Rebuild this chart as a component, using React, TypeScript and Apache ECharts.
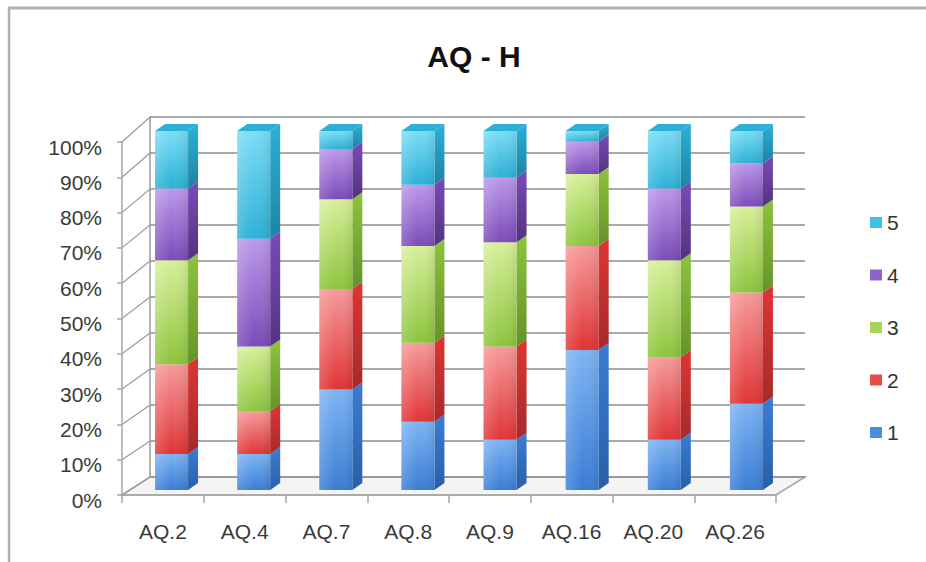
import React, { useEffect, useRef } from "react";
import * as echarts from "echarts";

const categories = ["AQ.2", "AQ.4", "AQ.7", "AQ.8", "AQ.9", "AQ.16", "AQ.20", "AQ.26"];
const seriesNames = ["1", "2", "3", "4", "5"];
const values1 = [10, 10, 28, 19, 14, 39, 14, 24];
const values2 = [25, 12, 28, 22, 26, 29, 23, 31];
const values3 = [29, 18, 25, 27, 29, 20, 27, 24];
const values4 = [20, 30, 14, 17, 18, 9, 20, 12];
const values5 = [16, 30, 5, 15, 13, 3, 16, 9];
const percentTicks = [0, 10, 20, 30, 40, 50, 60, 70, 80, 90, 100];

const allValues = [values1, values2, values3, values4, values5];

const palette = [
  { top: "#7DB4F2", bottom: "#3A7DD6", side: "#2A5EA6", mid: "#4A8EE0" },
  { top: "#F79A9A", bottom: "#E03434", side: "#A52A2A", mid: "#E84B4B" },
  { top: "#D8F09A", bottom: "#8CC43C", side: "#66922A", mid: "#A6D458" },
  { top: "#BC98EA", bottom: "#7A4BB8", side: "#52337E", mid: "#8E62CC" },
  { top: "#7ADDF6", bottom: "#2CB0D6", side: "#1E83A2", mid: "#3EC1E2" },
];

// geometry of the simulated 3D frame
const BACK = { left: 150, top: 117, width: 655, height: 360 };
const FRONT = { left: 122, top: 142, width: 654, height: 353 };
const BARS = { left: 130.5, top: 131, width: 657, height: 359 };
const FONT = "Liberation Sans";

export default function App() {
  const ref = useRef<HTMLDivElement>(null);

  useEffect(() => {
    if (!ref.current) return;
    const chart = echarts.init(ref.current, null, { renderer: "svg" });

    const series = seriesNames.map((name, s) => {
      const data = categories.map((_, c) => {
        let base = 0;
        for (let k = 0; k < s; k++) base += allValues[k][c];
        return [c, base, base + allValues[s][c]];
      });
      const col = palette[s];
      return {
        type: "custom",
        name,
        xAxisIndex: 2,
        yAxisIndex: 2,
        encode: { x: 0, y: [1, 2] },
        itemStyle: { color: col.mid },
        data,
        z: 10,
        renderItem: (params: any, api: any) => {
          const c = api.value(0);
          const lo = api.value(1);
          const hi = api.value(2);
          const pLo = api.coord([c, lo]);
          const pHi = api.coord([c, hi]);
          const w = 33;
          const dx = 10;
          const dy = -7;
          const xL = pLo[0] - w / 2;
          const xR = xL + w;
          const yT = pHi[1];
          const yB = pLo[1];
          const children: any[] = [
            {
              type: "polygon",
              shape: { points: [[xR, yB], [xR + dx, yB + dy], [xR + dx, yT + dy], [xR, yT]] },
              style: {
                fill: new echarts.graphic.LinearGradient(0, 0, 0, 1, [
                  { offset: 0, color: col.bottom },
                  { offset: 1, color: col.side },
                ]),
              },
            },
            {
              type: "rect",
              shape: { x: xL, y: yT, width: w, height: yB - yT },
              style: {
                fill: new echarts.graphic.LinearGradient(0, 0, 0, 1, [
                  { offset: 0, color: col.top },
                  { offset: 1, color: col.bottom },
                ]),
              },
            },
            {
              type: "rect",
              shape: { x: xL, y: yT, width: w, height: yB - yT },
              style: {
                fill: new echarts.graphic.LinearGradient(0, 0, 1, 0, [
                  { offset: 0, color: "rgba(255,255,255,0.18)" },
                  { offset: 0.5, color: "rgba(255,255,255,0)" },
                  { offset: 1, color: "rgba(0,0,0,0.08)" },
                ]),
              },
            },
          ];
          if (s === seriesNames.length - 1) {
            children.push({
              type: "polygon",
              shape: { points: [[xL, yT], [xL + dx, yT + dy], [xR + dx, yT + dy], [xR, yT]] },
              style: { fill: col.bottom },
            });
          }
          return { type: "group", children };
        },
      };
    });

    const graphics: any[] = [
      {
        type: "line",
        z: -10,
        silent: true,
        shape: { x1: 8, y1: 8, x2: 926, y2: 8 },
        style: { stroke: "#b0b0b0", lineWidth: 3 },
      },
      {
        type: "line",
        z: -10,
        silent: true,
        shape: { x1: 9, y1: 8, x2: 9, y2: 562 },
        style: { stroke: "#b0b0b0", lineWidth: 2.5 },
      },
      {
        type: "polygon",
        z: -5,
        silent: true,
        shape: {
          points: [
            [FRONT.left, FRONT.top + FRONT.height],
            [BACK.left, BACK.top + BACK.height],
            [BACK.left + BACK.width, BACK.top + BACK.height],
            [FRONT.left + FRONT.width, FRONT.top + FRONT.height],
          ],
        },
        style: { fill: "#f4f4f4", stroke: "#a6a6a6", lineWidth: 1.5 },
      },
    ];
    percentTicks.forEach((v) => {
      const yf = FRONT.top + FRONT.height * (1 - v / 100);
      const yb = BACK.top + BACK.height * (1 - v / 100);
      graphics.push({
        type: "line",
        z: -4,
        silent: true,
        shape: { x1: FRONT.left, y1: yf, x2: BACK.left, y2: yb },
        style: { stroke: "#9a9a9a", lineWidth: 1.2 },
      });
    });

    chart.setOption({
      animation: false,
      backgroundColor: "#ffffff",
      title: {
        text: "AQ - H",
        left: 474,
        textAlign: "center",
        top: 41,
        padding: 0,
        textStyle: { fontFamily: FONT, fontSize: 30, fontWeight: "bold", color: "#111111" },
      },
      legend: {
        orient: "vertical",
        left: 870,
        top: 212,
        padding: 0,
        itemWidth: 12,
        itemHeight: 11,
        itemGap: 31.5,
        icon: "rect",
        data: ["5", "4", "3", "2", "1"],
        textStyle: { fontFamily: FONT, fontSize: 21, lineHeight: 21, color: "#333333" },
      },
      grid: [
        { left: BACK.left, top: BACK.top, width: BACK.width, height: BACK.height },
        { left: FRONT.left, top: FRONT.top, width: FRONT.width, height: FRONT.height },
        { left: BARS.left, top: BARS.top, width: BARS.width, height: BARS.height },
      ],
      xAxis: [
        { gridIndex: 0, type: "category", data: categories, show: false },
        {
          gridIndex: 1,
          type: "category",
          data: categories,
          axisLine: { lineStyle: { color: "#a6a6a6", width: 1.5 } },
          axisTick: { show: true, length: 8, lineStyle: { color: "#a6a6a6", width: 1.5 } },
          axisLabel: { fontFamily: FONT, fontSize: 21, color: "#3a3a3a", margin: 26 },
          splitLine: { show: false },
        },
        { gridIndex: 2, type: "category", data: categories, show: false },
      ],
      yAxis: [
        {
          gridIndex: 0,
          type: "value",
          min: 0,
          max: 100,
          interval: 10,
          axisLine: { show: true, lineStyle: { color: "#9a9a9a", width: 1.5 } },
          axisTick: { show: false },
          axisLabel: { show: false },
          splitLine: { show: true, lineStyle: { color: "#8c8c8c", width: 1.6 } },
        },
        {
          gridIndex: 1,
          type: "value",
          min: 0,
          max: 100,
          interval: 10,
          axisLine: { show: true, lineStyle: { color: "#a6a6a6", width: 1.5 } },
          axisTick: { show: true, length: 5, lineStyle: { color: "#a6a6a6", width: 1.5 } },
          axisLabel: {
            formatter: (v: number) => "{p|" + v + "%}",
            margin: 20,
            rich: {
              p: {
                fontFamily: FONT,
                fontSize: 21,
                color: "#3a3a3a",
                padding: [10, 0, 0, 0],
              },
            },
          },
          splitLine: { show: false },
        },
        { gridIndex: 2, type: "value", min: 0, max: 100, show: false, splitLine: { show: false } },
      ],
      graphic: graphics,
      series,
    });

    return () => chart.dispose();
  }, []);

  return (
    <div
      ref={ref}
      style={{ position: "fixed", left: 0, top: 0, width: 926, height: 562, background: "#fff" }}
    />
  );
}
